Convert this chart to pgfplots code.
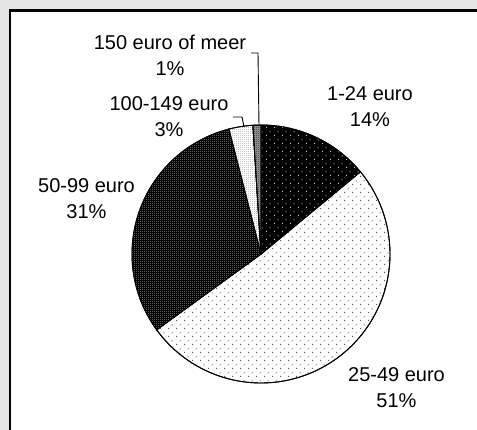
\documentclass[border=0pt]{standalone}
\usepackage{pgfplots}
\pgfplotsset{compat=1.18}
\usepackage{fontspec}
\setmainfont{Liberation Sans}
\usetikzlibrary{patterns.meta}
\tikzdeclarepattern{
  name=sparsedots,
  type=uncolored,
  bounding box={(0,0) and (7.6bp,7.6bp)},
  tile size={(7.6bp,7.6bp)},
  code={\fill (0,0) rectangle (1.1bp,1.1bp); \fill (3.8bp,3.8bp) rectangle (4.9bp,4.9bp);}
}
\tikzdeclarepattern{
  name=densedots,
  type=uncolored,
  bounding box={(0,0) and (2bp,2bp)},
  tile size={(2bp,2bp)},
  code={\fill (0,0) rectangle (1bp,1bp);}
}
% shares of the pie (percent), clockwise from the top
\def\pA{14}% 1-24 euro
\def\pB{51}% 25-49 euro
\def\pC{31}% 50-99 euro
\def\pD{3}%  100-149 euro
\def\pE{1}%  150 euro of meer
\pgfmathsetmacro\aA{90}
\pgfmathsetmacro\aB{\aA-\pA*3.6}
\pgfmathsetmacro\aC{\aB-\pB*3.6}
\pgfmathsetmacro\aD{\aC-\pC*3.6}
\pgfmathsetmacro\aE{\aD-\pD*3.6}
\pgfmathsetmacro\aF{\aE-\pE*3.6}
\def\cx{261}\def\cy{176}\def\R{129}
\begin{document}
\begin{tikzpicture}
\useasboundingbox (0,0) rectangle (477bp,430bp);
\fill[gray!20] (0,0) rectangle (477bp,430bp);
\fill[white] (10bp,0) rectangle (477bp,419.5bp);
\draw[black,line width=2.5bp] (10bp,-2bp) -- (10bp,419.5bp) -- (480bp,419.5bp);
\begin{axis}[
  scale only axis, width=477bp, height=430bp,
  xmin=0, xmax=477, ymin=0, ymax=430,
  hide axis, clip=false,
  every axis plot/.append style={line width=0.9bp},
]
% 25-49 euro
\addplot[draw=black, preaction={fill=white}, pattern=sparsedots, pattern color=black!65, domain=\aC:\aB, samples=120, variable=\t]
  ({\cx+\R*cos(\t)},{\cy+\R*sin(\t)}) -- (\cx,\cy) -- cycle;
% 1-24 euro
\addplot[draw=black, preaction={fill=black}, pattern=sparsedots, pattern color=white!75!black, domain=\aB:\aA, samples=50, variable=\t]
  ({\cx+\R*cos(\t)},{\cy+\R*sin(\t)}) -- (\cx,\cy) -- cycle;
% 50-99 euro
\addplot[draw=black, preaction={fill=black}, pattern=densedots, pattern color=white!88!black, domain={\aD+360}:{\aC+360}, samples=80, variable=\t]
  ({\cx+\R*cos(\t)},{\cy+\R*sin(\t)}) -- (\cx,\cy) -- cycle;
% 100-149 euro
\addplot[draw=black, preaction={fill=white}, pattern=densedots, pattern color=black!55, domain={\aE+360}:{\aD+360}, samples=15, variable=\t]
  ({\cx+\R*cos(\t)},{\cy+\R*sin(\t)}) -- (\cx,\cy) -- cycle;
% 150 euro of meer
\addplot[draw=black, preaction={fill=white!55!black}, pattern=densedots, pattern color=black, domain={\aF+360}:{\aE+360}, samples=8, variable=\t]
  ({\cx+\R*cos(\t)},{\cy+\R*sin(\t)}) -- (\cx,\cy) -- cycle;
% leader lines
\addplot[black, line width=0.9bp] coordinates {(251,377) (258,377) (259,304)};
\addplot[black, line width=0.9bp] coordinates {(233,313) (242,313) (244,303)};
% labels
\begin{scope}[every node/.style={font=\fontsize{20bp}{26bp}\selectfont, align=center, inner sep=0pt, anchor=center}]
\node at (170,375) {150 euro of meer\\1\%};
\node at (169,313) {100-149 euro\\3\%};
\node at (370,323) {1-24 euro\\14\%};
\node at (86.5,231) {50-99 euro\\31\%};
\node at (396.5,42) {25-49 euro\\51\%};
\end{scope}
\end{axis}
\end{tikzpicture}
\end{document}
